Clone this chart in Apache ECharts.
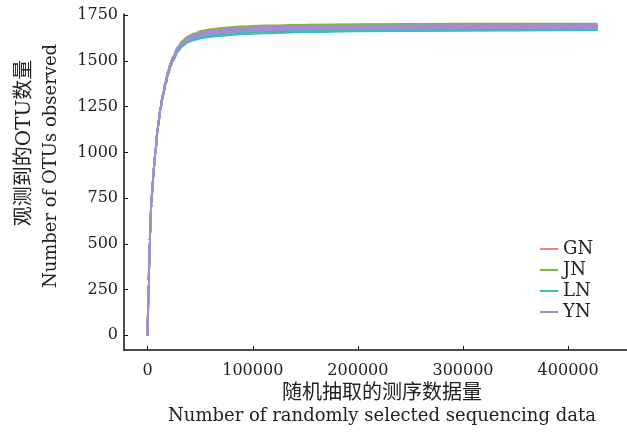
<!DOCTYPE html>
<html>
<head>
<meta charset="utf-8">
<script src="https://cdn.jsdelivr.net/npm/echarts@6/dist/echarts.min.js"></script>
<style>
  html, body { margin: 0; padding: 0; background: #fff; }
  #chart { width: 627px; height: 435px; }
</style>
</head>
<body>
<div id="chart"></div>
<script>
// 抽样深度 (随机抽取的测序数据量)
var depth = [0, 1000, 2000, 3500, 5000, 7000, 9800, 12000, 14600, 17000, 19300, 22000, 24100, 28800, 33000, 38300, 44000, 51000, 60000, 70000, 89000, 110000, 150000, 200000, 300000, 428000];

// 每组三个样本的稀释曲线
var GN1 = [0, 301, 522, 722, 853, 989, 1144, 1240, 1321, 1386, 1441, 1489, 1522, 1573, 1606, 1631, 1646, 1659, 1669, 1675, 1683, 1689, 1694, 1696, 1699, 1700];
var GN2 = [0, 300, 520, 719, 849, 984, 1139, 1234, 1315, 1378, 1432, 1480, 1512, 1563, 1594, 1617, 1631, 1643, 1652, 1657, 1665, 1671, 1677, 1680, 1683, 1685];
var GN3 = [0, 299, 518, 717, 847, 981, 1135, 1230, 1310, 1373, 1427, 1474, 1506, 1556, 1586, 1608, 1621, 1632, 1640, 1645, 1653, 1659, 1665, 1669, 1672, 1675];

var JN1 = [0, 302, 522, 723, 854, 990, 1146, 1241, 1323, 1388, 1443, 1492, 1524, 1576, 1609, 1634, 1650, 1664, 1673, 1680, 1688, 1694, 1698, 1701, 1703, 1704];
var JN2 = [0, 300, 520, 720, 851, 986, 1141, 1236, 1317, 1381, 1435, 1483, 1515, 1566, 1598, 1622, 1636, 1648, 1657, 1663, 1671, 1677, 1682, 1685, 1688, 1690];
var JN3 = [0, 298, 518, 717, 846, 980, 1134, 1229, 1309, 1372, 1425, 1472, 1504, 1554, 1583, 1606, 1618, 1628, 1637, 1642, 1650, 1656, 1662, 1665, 1669, 1672];

var LN1 = [0, 301, 521, 721, 851, 987, 1142, 1237, 1318, 1383, 1437, 1485, 1517, 1569, 1600, 1625, 1639, 1652, 1661, 1667, 1675, 1681, 1686, 1689, 1691, 1693];
var LN2 = [0, 299, 519, 718, 848, 982, 1137, 1231, 1312, 1375, 1429, 1477, 1508, 1559, 1589, 1612, 1625, 1636, 1645, 1650, 1658, 1664, 1670, 1673, 1677, 1679];
var LN3 = [0, 298, 517, 716, 845, 979, 1133, 1227, 1307, 1370, 1424, 1471, 1502, 1552, 1581, 1603, 1615, 1625, 1633, 1638, 1646, 1652, 1658, 1662, 1666, 1669];

var YN1 = [0, 301, 521, 722, 852, 988, 1143, 1239, 1320, 1385, 1439, 1487, 1520, 1571, 1603, 1628, 1643, 1656, 1665, 1672, 1680, 1686, 1690, 1693, 1695, 1697];
var YN2 = [0, 300, 520, 720, 850, 985, 1140, 1235, 1316, 1380, 1434, 1482, 1514, 1565, 1596, 1620, 1634, 1646, 1655, 1661, 1669, 1675, 1680, 1683, 1686, 1688];
var YN3 = [0, 299, 519, 719, 848, 983, 1138, 1233, 1313, 1377, 1431, 1478, 1510, 1561, 1591, 1615, 1628, 1639, 1648, 1654, 1662, 1668, 1673, 1676, 1680, 1682];

var groups = ['GN', 'JN', 'LN', 'YN'];
var colors = ['#F4817A', '#86B33C', '#37BEC2', '#A68BD4'];
var samples = [[GN1, GN2, GN3], [JN1, JN2, JN3], [LN1, LN2, LN3], [YN1, YN2, YN3]];

var xTicks = [0, 100000, 200000, 300000, 400000];
var yTicks = [0, 250, 500, 750, 1000, 1250, 1500, 1750];

var serifFont = '"DejaVu Serif", "Liberation Serif", serif';
var cjkFont = '"Noto Sans CJK SC", sans-serif';
var mixFont = '"DejaVu Serif", "Noto Sans CJK SC", serif';

function pairs(xs, ys) {
  var out = [];
  for (var i = 0; i < xs.length; i++) out.push([xs[i], ys[i]]);
  return out;
}

var series = [];
for (var g = 0; g < groups.length; g++) {
  for (var s = 0; s < samples[g].length; s++) {
    series.push({
      name: groups[g],
      type: 'line',
      data: pairs(depth, samples[g][s]),
      smooth: 0.3,
      smoothMonotone: 'x',
      symbol: 'none',
      lineStyle: { width: 2, color: colors[g] },
      itemStyle: { color: colors[g] },
      emphasis: { disabled: true }
    });
  }
}

var chart = echarts.init(document.getElementById('chart'));
var option = {
  backgroundColor: '#fff',
  animation: false,
  grid: { left: 124, right: 0, top: 14, bottom: 85 },
  legend: {
    data: groups,
    orient: 'vertical',
    left: 535,
    top: 235,
    icon: 'rect',
    itemWidth: 18,
    itemHeight: 2,
    itemGap: 3,
    textStyle: { fontFamily: serifFont, fontSize: 18, lineHeight: 18, color: '#222' }
  },
  xAxis: {
    type: 'value',
    min: -22500,
    max: 456000,
    splitLine: { show: false },
    axisLine: { onZero: false, lineStyle: { color: '#111', width: 1.5 } },
    axisTick: { inside: true, length: 4, customValues: xTicks, lineStyle: { color: '#111' } },
    axisLabel: {
      customValues: xTicks,
      formatter: function (v) { return String(v); },
      margin: 13,
      fontFamily: serifFont,
      fontSize: 16,
      color: '#222'
    }
  },
  yAxis: {
    type: 'value',
    min: -81,
    max: 1757,
    splitLine: { show: false },
    axisLine: { show: true, onZero: false, lineStyle: { color: '#111', width: 1.5 } },
    axisTick: { show: true, inside: true, length: 4, customValues: yTicks, lineStyle: { color: '#111' } },
    axisLabel: {
      customValues: yTicks,
      formatter: function (v) { return String(v); },
      margin: 6,
      fontFamily: serifFont,
      fontSize: 16,
      color: '#222'
    }
  },
  graphic: [
    {
      type: 'text', x: 382, y: 391,
      style: { text: '随机抽取的测序数据量', font: '20px ' + cjkFont, fill: '#222', align: 'center', verticalAlign: 'middle' }
    },
    {
      type: 'text', x: 382, y: 416,
      style: { text: 'Number of randomly selected sequencing data', font: '18px ' + serifFont, fill: '#222', align: 'center', verticalAlign: 'middle' }
    },
    {
      type: 'text', x: 25, y: 143, rotation: Math.PI / 2,
      style: { text: '观测到的OTU数量', font: '20px ' + mixFont, fill: '#222', align: 'center', verticalAlign: 'middle' }
    },
    {
      type: 'text', x: 51, y: 166, rotation: Math.PI / 2,
      style: { text: 'Number of OTUs observed', font: '18px ' + serifFont, fill: '#222', align: 'center', verticalAlign: 'middle' }
    }
  ],
  series: series
};
chart.setOption(option);
</script>
</body>
</html>
